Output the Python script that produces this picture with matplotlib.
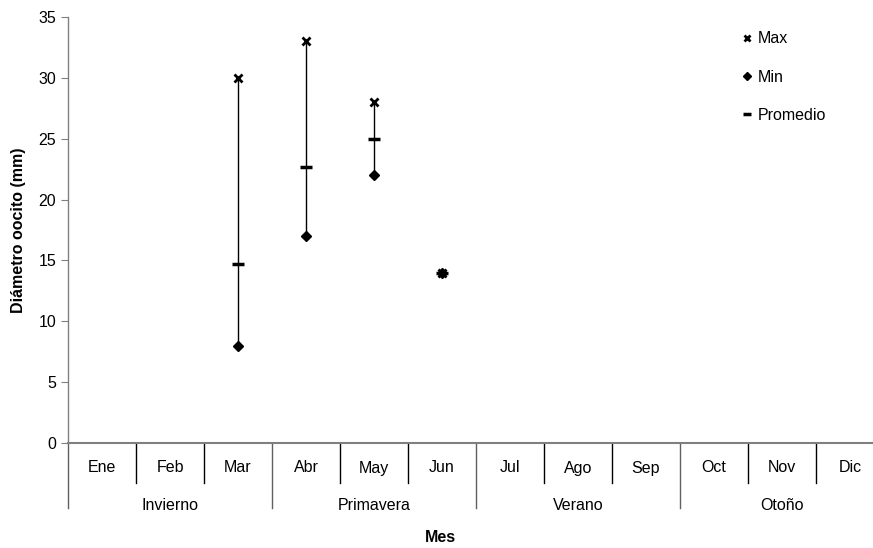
import matplotlib.pyplot as plt
import numpy as np

plt.rcParams['font.family'] = ['Liberation Sans', 'DejaVu Sans']

meses = ["Ene", "Feb", "Mar", "Abr", "May", "Jun", "Jul", "Ago", "Sep", "Oct", "Nov", "Dic"]
estaciones = ["Invierno", "Primavera", "Verano", "Otoño"]

# months with samples (index into meses)
idx = [2, 3, 4, 5]
maximo = [30, 33, 28, 14]
minimo = [8, 17, 22, 14]
promedio = [14.7, 22.7, 25, 14]

W, H = 873, 548
fs = 11.5
fig = plt.figure(figsize=(W / 100, H / 100), dpi=100)
# axes box in pixels: left 68, right 884 (runs past the edge), top 17, bottom 443
ax = fig.add_axes([68 / W, (H - 443) / H, (884 - 68) / W, (443 - 17) / H])

x = np.array(idx) + 0.5

# high-low lines
ax.vlines(x, minimo, maximo, color="black", lw=1.0, zorder=2)

ax.plot(x, maximo, ls="none", marker="x", ms=5.5, mew=2.0, color="black", label="Max", zorder=3)
ax.plot(x, minimo, ls="none", marker="D", ms=5, color="black", label="Min", zorder=3)
ax.plot(x, promedio, ls="none", marker="_", ms=8, mew=2.5, color="black", label="Promedio", zorder=3)

ax.set_xlim(0, 12)
ax.set_ylim(0, 35)
ax.set_yticks(range(0, 36, 5))
ax.tick_params(axis="y", direction="out", length=5, color="#808080", labelsize=fs)
ax.set_xticks([])

for s in ["top", "right"]:
    ax.spines[s].set_visible(False)
ax.spines["left"].set_color("#808080")
ax.spines["bottom"].set_color("#808080")
ax.spines["left"].set_linewidth(1.0)
ax.spines["bottom"].set_linewidth(1.5)

trans = ax.get_xaxis_transform()
hpx = 443 - 17
y_mes = -40 / hpx
y_est = -65 / hpx

# month separators and labels
for i in range(13):
    largo = y_est if i % 3 == 0 else y_mes
    ax.plot([i, i], [0, largo], transform=trans, color="black" if i % 3 else "#606060",
            lw=1.0, clip_on=False)
for i, m in enumerate(meses):
    ax.text(i + 0.5, -25 / hpx, m, transform=trans, ha="center", va="center", fontsize=fs)
for j, e in enumerate(estaciones):
    ax.text(j * 3 + 1.5, -63 / hpx, e, transform=trans, ha="center", va="center", fontsize=fs)

fig.text(440 / W, 1 - 537 / H, "Mes", ha="center", va="center", fontsize=fs, fontweight="bold")
fig.text(19 / W, 1 - 230 / H, "Diámetro oocito (mm)", ha="center", va="center",
         rotation=90, fontsize=fs, fontweight="bold")

leg = ax.legend(loc="upper left", bbox_to_anchor=((726 - 68) / (884 - 68), 1.0),
                frameon=False, fontsize=fs, handlelength=0.8, handletextpad=0.3,
                labelspacing=1.45, markerscale=0.75)

fig.savefig("out.png", dpi=100)
